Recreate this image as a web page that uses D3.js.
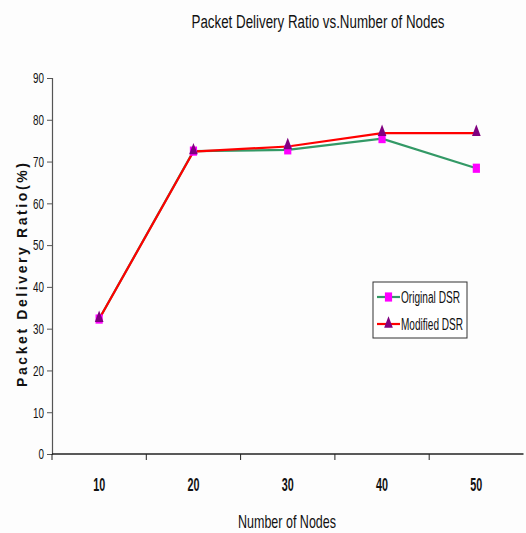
<!DOCTYPE html>
<html>
<head>
<meta charset="utf-8">
<script src="https://cdn.jsdelivr.net/npm/d3@7"></script>
<style>
  body { margin: 0; background: #fdfdfd; }
  svg text { font-family: "Liberation Sans", Arial, sans-serif; fill: #111; }
</style>
</head>
<body>
<div id="chart"></div>
<script>
// chart data
var nodes = ["10", "20", "30", "40", "50"];
var originalDSR = [32.3, 72.5, 72.8, 75.5, 68.4];
var modifiedDSR = [32.3, 72.4, 73.6, 76.8, 76.8];
var yTicks = [0, 10, 20, 30, 40, 50, 60, 70, 80, 90];

var width = 526, height = 533;
var plotLeft = 52, plotRight = 523.5, plotTop = 78, plotBottom = 454;

var svg = d3.select("#chart").append("svg")
    .attr("width", width)
    .attr("height", height);

var x = d3.scaleBand().domain(nodes).range([plotLeft, plotRight]);
var y = d3.scaleLinear().domain([0, 90]).range([plotBottom, plotTop]);

// squeeze a text to a given width (the original uses a narrow face)
function narrow(sel, w) {
    sel.attr("textLength", w).attr("lengthAdjust", "spacingAndGlyphs");
}

// title
svg.append("text")
    .attr("x", 318).attr("y", 28)
    .attr("text-anchor", "middle")
    .attr("font-size", 18)
    .call(narrow, 253)
    .text("Packet Delivery Ratio vs.Number of Nodes");

// y axis
var yAxis = svg.append("g")
    .attr("transform", "translate(" + plotLeft + ",0)")
    .call(d3.axisLeft(y).tickValues(yTicks).tickSize(5).tickPadding(3));
yAxis.select(".domain").attr("stroke", "#555").attr("stroke-width", 1.2);
yAxis.selectAll(".tick line").attr("stroke", "#555");
yAxis.selectAll(".tick text")
    .attr("font-size", 15).attr("fill", "#222")
    .style("font-family", "'Liberation Sans', Arial, sans-serif")
    .each(function (d) {
        d3.select(this).call(narrow, String(d).length * 5.5);
    });

// x axis: ticks at category boundaries, labels at centres
var xAxis = svg.append("g")
    .attr("transform", "translate(0," + plotBottom + ")");
xAxis.append("line")
    .attr("x1", plotLeft).attr("x2", plotRight)
    .attr("stroke", "#222").attr("stroke-width", 1.5);
xAxis.selectAll(".xt").data(nodes).enter().append("line")
    .attr("x1", function (d) { return x(d); })
    .attr("x2", function (d) { return x(d); })
    .attr("y1", 0).attr("y2", 6)
    .attr("stroke", "#222");
xAxis.selectAll(".xl").data(nodes).enter().append("text")
    .attr("x", function (d) { return x(d) + x.bandwidth() / 2; })
    .attr("y", 37)
    .attr("text-anchor", "middle")
    .attr("font-size", 18)
    .attr("font-weight", "bold")
    .call(narrow, 12)
    .text(function (d) { return d; });

// axis titles
svg.append("text")
    .attr("x", 287).attr("y", 528)
    .attr("text-anchor", "middle")
    .attr("font-size", 19)
    .call(narrow, 98)
    .text("Number of Nodes");

svg.append("text")
    .attr("transform", "translate(27,275) rotate(-90)")
    .attr("text-anchor", "middle")
    .attr("font-size", 14)
    .attr("font-weight", "bold")
    .attr("textLength", 224)
    .attr("lengthAdjust", "spacing")
    .text("Packet Delivery Ratio(%)");

var cx = function (d, i) { return x(nodes[i]) + x.bandwidth() / 2; };
var line = d3.line()
    .x(function (d, i) { return x(nodes[i]) + x.bandwidth() / 2; })
    .y(function (d) { return y(d); });

var square = d3.symbol().type(d3.symbolSquare).size(64);
var triangle = d3.symbol().type(d3.symbolTriangle).size(45);

// original DSR
svg.append("path").datum(originalDSR)
    .attr("d", line)
    .attr("fill", "none").attr("stroke", "#339966").attr("stroke-width", 2.2);
// modified DSR
svg.append("path").datum(modifiedDSR)
    .attr("d", line)
    .attr("fill", "none").attr("stroke", "#ff0000").attr("stroke-width", 2.2);

svg.selectAll(".sq").data(originalDSR).enter().append("path")
    .attr("d", square)
    .attr("transform", function (d, i) { return "translate(" + cx(d, i) + "," + y(d) + ") scale(0.9,1.15)"; })
    .attr("fill", "#ff00ff");
svg.selectAll(".tri").data(modifiedDSR).enter().append("path")
    .attr("d", triangle)
    .attr("transform", function (d, i) { return "translate(" + cx(d, i) + "," + (y(d) - 1) + ") scale(0.85,1.3)"; })
    .attr("fill", "#800080");

// legend
var legend = svg.append("g").attr("transform", "translate(373,282)");
legend.append("rect")
    .attr("width", 94).attr("height", 56)
    .attr("fill", "#fff").attr("stroke", "#333").attr("stroke-width", 1);

var series = [
    { name: "Original DSR", color: "#339966", shape: square, fill: "#ff00ff", sc: "scale(0.9,1.15)", w: 59 },
    { name: "Modified DSR", color: "#ff0000", shape: triangle, fill: "#800080", sc: "scale(0.85,1.3)", w: 62 }
];
var item = legend.selectAll(".item").data(series).enter().append("g")
    .attr("transform", function (d, i) { return "translate(0," + (15 + i * 27) + ")"; });
item.append("line")
    .attr("x1", 4).attr("x2", 27)
    .attr("stroke", function (d) { return d.color; }).attr("stroke-width", 2.2);
item.append("path")
    .attr("d", function (d) { return d.shape(); })
    .attr("transform", function (d) { return "translate(15.5,0) " + d.sc; })
    .attr("fill", function (d) { return d.fill; });
item.append("text")
    .attr("x", 28).attr("y", 6)
    .attr("font-size", 16)
    .attr("lengthAdjust", "spacingAndGlyphs")
    .attr("textLength", function (d) { return d.w; })
    .text(function (d) { return d.name; });
</script>
</body>
</html>
